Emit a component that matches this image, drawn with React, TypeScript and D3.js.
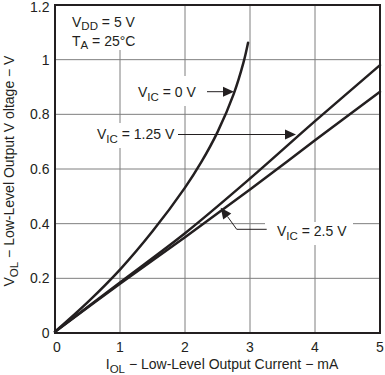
import React from "react";
import * as d3 from "d3";

const xTicks = [0, 1, 2, 3, 4, 5];
const yTicks = [0, 0.2, 0.4, 0.6, 0.8, 1, 1.2];

const vic0X = [0, 0.5, 1, 1.5, 2, 2.25, 2.5, 2.75, 2.9, 2.97];
const vic0Y = [0.005, 0.112, 0.232, 0.372, 0.532, 0.625, 0.735, 0.875, 0.99, 1.062];

const vic125X = [0, 1, 2, 3, 4, 5];
const vic125Y = [0.005, 0.185, 0.365, 0.565, 0.775, 0.98];

const vic25X = [0, 1, 2, 3, 4, 5];
const vic25Y = [0.005, 0.18, 0.35, 0.525, 0.705, 0.883];

const FONT = "'Liberation Sans', Arial, Helvetica, sans-serif";
const INK = "#231f20";

const W = 385;
const H = 375;
const L = 55, R = 380, T = 5, B = 333;
const SUB = 11.5;

function arrowHead(tx: number, ty: number, fx: number, fy: number, len = 11, half = 5) {
  const dx = tx - fx, dy = ty - fy;
  const d = Math.hypot(dx, dy);
  const ux = dx / d, uy = dy / d;
  const bx = tx - ux * len, by = ty - uy * len;
  const px = -uy * half, py = ux * half;
  return `M${tx},${ty}L${bx + px},${by + py}L${bx - px},${by - py}Z`;
}

export default function App() {
  const x = d3.scaleLinear().domain([0, 5]).range([L, R]);
  const y = d3.scaleLinear().domain([0, 1.2]).range([B, T]);
  const line = d3
    .line<[number, number]>()
    .x((d) => x(d[0]))
    .y((d) => y(d[1]))
    .curve(d3.curveCatmullRom.alpha(0.5));

  const series = [
    vic0X.map((v, i) => [v, vic0Y[i]] as [number, number]),
    vic125X.map((v, i) => [v, vic125Y[i]] as [number, number]),
    vic25X.map((v, i) => [v, vic25Y[i]] as [number, number]),
  ];

  const fmt = (v: number) => (v === 0 ? "0" : v === 1 ? "1" : String(v));

  return (
    <svg
      width={W}
      height={H}
      style={{ position: "absolute", left: 0, top: 0, background: "#fff" }}
      fontFamily={FONT}
    >
      <rect x={0} y={0} width={W} height={H} fill="#fff" />
      {/* grid */}
      {xTicks.slice(1, -1).map((t) => (
        <line key={"gx" + t} x1={x(t)} x2={x(t)} y1={T} y2={B} stroke="#7f7f7f" strokeWidth={1} />
      ))}
      {yTicks.slice(1, -1).map((t) => (
        <line key={"gy" + t} x1={L} x2={R} y1={y(t)} y2={y(t)} stroke="#7f7f7f" strokeWidth={1} />
      ))}
      {/* label knock-outs */}
      <rect x={58} y={6} width={90} height={44} fill="#fff" />
      <rect x={132} y={76} width={72} height={30} fill="#fff" />
      <rect x={90} y={123} width={88} height={25} fill="#fff" />
      <rect x={265} y={222} width={88} height={23} fill="#fff" />
      {/* frame */}
      <rect x={L} y={T} width={R - L} height={B - T} fill="none" stroke={INK} strokeWidth={2} />
      {/* curves */}
      {series.map((s, i) => (
        <path key={"s" + i} d={line(s) || ""} fill="none" stroke={INK} strokeWidth={2.5} strokeLinecap="round" />
      ))}
      {/* y ticks */}
      {yTicks.map((t) => (
        <text key={"ty" + t} x={49.5} y={y(t) + (t === 1.2 ? 2 : 0)} dy="0.35em" textAnchor="end" fontSize={14} fill={INK}>
          {fmt(t)}
        </text>
      ))}
      {/* x ticks */}
      {xTicks.map((t) => (
        <text key={"tx" + t} x={x(t) + (t === 0 ? 2 : 0)} y={352} textAnchor="middle" fontSize={14} fill={INK}>
          {t}
        </text>
      ))}
      {/* axis titles */}
      <text x={222} y={369} textAnchor="middle" fontSize={14} fill={INK}>
        I<tspan fontSize={SUB} dy={4}>OL</tspan>
        <tspan dy={-4}> − Low-Level Output Current − mA</tspan>
      </text>
      <text transform={`translate(14,${(T + B) / 2 + 2}) rotate(-90)`} textAnchor="middle" fontSize={14} fill={INK}>
        V<tspan fontSize={SUB} dy={4}>OL</tspan>
        <tspan dy={-4}> − Low-Level Output V oltage − V</tspan>
      </text>
      {/* conditions */}
      <text x={72} y={27} fontSize={14} fill={INK}>
        V<tspan fontSize={SUB} dy={3}>DD</tspan>
        <tspan dy={-3}> = 5 V</tspan>
      </text>
      <text x={72} y={46} fontSize={14} fill={INK}>
        T<tspan fontSize={SUB} dy={3}>A</tspan>
        <tspan dy={-3}> = 25°C</tspan>
      </text>
      {/* VIC = 0 V */}
      <text x={138} y={97} fontSize={14} fill={INK}>
        V<tspan fontSize={SUB} dy={4}>IC</tspan>
        <tspan dy={-4}> = 0 V</tspan>
      </text>
      <line x1={207} y1={91.7} x2={225} y2={91.7} stroke={INK} strokeWidth={1} />
      <path d={arrowHead(234, 91.7, 207, 91.7)} fill={INK} />
      {/* VIC = 1.25 V */}
      <text x={97} y={139} fontSize={14} fill={INK}>
        V<tspan fontSize={SUB} dy={4}>IC</tspan>
        <tspan dy={-4}> = 1.25 V</tspan>
      </text>
      <line x1={178} y1={134.5} x2={287} y2={134.5} stroke={INK} strokeWidth={1} />
      <path d={arrowHead(296, 134.5, 178, 134.5)} fill={INK} />
      {/* VIC = 2.5 V */}
      <text x={277} y={236} fontSize={14} fill={INK}>
        V<tspan fontSize={SUB} dy={4}>IC</tspan>
        <tspan dy={-4}> = 2.5 V</tspan>
      </text>
      <polyline points="266.7,229.3 236.7,229.3 227.5,216.5" fill="none" stroke={INK} strokeWidth={1} />
      <path d={arrowHead(220.7, 207.7, 236.7, 229.3)} fill={INK} />
    </svg>
  );
}
